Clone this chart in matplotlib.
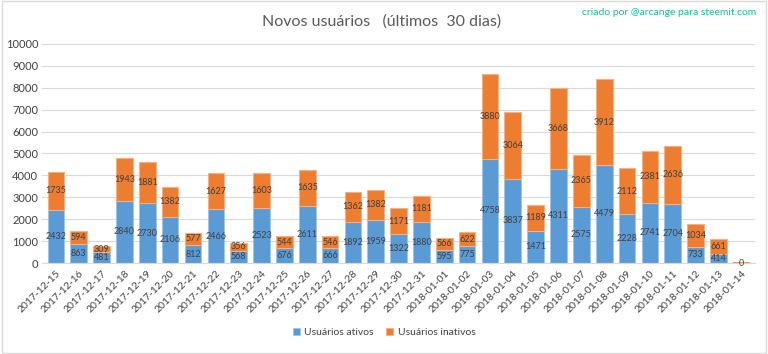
import matplotlib
matplotlib.use("Agg")
import matplotlib.pyplot as plt
import numpy as np

plt.rcParams['font.family'] = ['Lato', 'DejaVu Sans']

dates = ["2017-12-15", "2017-12-16", "2017-12-17", "2017-12-18", "2017-12-19", "2017-12-20",
         "2017-12-21", "2017-12-22", "2017-12-23", "2017-12-24", "2017-12-25", "2017-12-26",
         "2017-12-27", "2017-12-28", "2017-12-29", "2017-12-30", "2017-12-31", "2018-01-01",
         "2018-01-02", "2018-01-03", "2018-01-04", "2018-01-05", "2018-01-06", "2018-01-07",
         "2018-01-08", "2018-01-09", "2018-01-10", "2018-01-11", "2018-01-12", "2018-01-13",
         "2018-01-14"]
ativos = [2432, 863, 481, 2840, 2730, 2106, 812, 2466, 568, 2523, 676, 2611, 666, 1892, 1959,
          1322, 1880, 595, 775, 4758, 3837, 1471, 4311, 2575, 4479, 2228, 2741, 2704, 733, 414, 0]
inativos = [1735, 594, 309, 1943, 1881, 1382, 577, 1627, 356, 1603, 544, 1635, 546, 1362, 1382,
            1171, 1181, 566, 622, 3880, 3064, 1189, 3668, 2365, 3912, 2112, 2381, 2636, 1034, 661, 0]
yticks = list(range(0, 10001, 1000))

blue = "#5B9BD5"
orange = "#ED7D31"
txt = "#404040"

fig = plt.figure(figsize=(7.68, 3.54), dpi=100)
fig.patch.set_facecolor("white")
ax = fig.add_axes([0.055, 0.257, 0.928, 0.619])

x = np.arange(len(dates))
w = 0.73
b1 = ax.bar(x, ativos, w, color=blue, edgecolor="#9DC3E6", linewidth=0.5, label="Usuários ativos", zorder=2)
b2 = ax.bar(x, inativos, w, bottom=ativos, color=orange, edgecolor="#F4B183", linewidth=0.8,
            label="Usuários inativos", zorder=2)
# zero-height bars still show a thin line, as in the reference
for i, (a, n) in enumerate(zip(ativos, inativos)):
    if a + n == 0:
        b2[i].set_edgecolor(orange)
        b2[i].set_linewidth(1.2)

for i in range(len(dates)):
    a, n = ativos[i], inativos[i]
    ax.text(x[i], a / 2, str(a), ha="center", va="center", fontsize=6.5, color=txt, zorder=3)
    if n > 0:
        ax.text(x[i], a + n / 2, str(n), ha="center", va="center",
                fontsize=6.5, color=txt, zorder=3)

ax.set_xlim(-0.6, len(dates) - 0.4)
ax.set_ylim(0, 10000)
ax.set_yticks(yticks)
ax.set_yticklabels([str(v) for v in yticks], fontsize=8, color=txt)
ax.set_xticks(x)
ax.set_xticklabels(dates, rotation=45, ha="right", rotation_mode="anchor", fontsize=7.5, color=txt)
ax.tick_params(axis="both", length=0, pad=3)
ax.tick_params(axis="x", pad=4)
ax.grid(axis="y", color="#D9D9D9", linewidth=0.8, zorder=0)
ax.set_axisbelow(True)
for s in ["top", "right", "left"]:
    ax.spines[s].set_visible(False)
ax.spines["bottom"].set_color("#D9D9D9")

fig.text(0.497, 0.94, "Novos usuários   (últimos  30 dias)", ha="center", va="center",
         fontsize=11.5, color="#595959")
fig.text(0.985, 0.965, "criado por @arcange para steemit.com", ha="right", va="center",
         fontsize=7.5, color="#00C896")

leg = fig.legend(handles=[b1, b2], loc="center", bbox_to_anchor=(0.5, 0.06), ncol=2,
                 frameon=False, fontsize=7.5, handlelength=0.7, handleheight=0.7,
                 columnspacing=1.2, handletextpad=0.4)
for t in leg.get_texts():
    t.set_color(txt)

border = plt.Rectangle((0.002, 0.004), 0.996, 0.992, transform=fig.transFigure, fill=False,
                       edgecolor="#D9D9D9", linewidth=1)
fig.patches.append(border)

fig.savefig("out.png", dpi=100, facecolor="white")
